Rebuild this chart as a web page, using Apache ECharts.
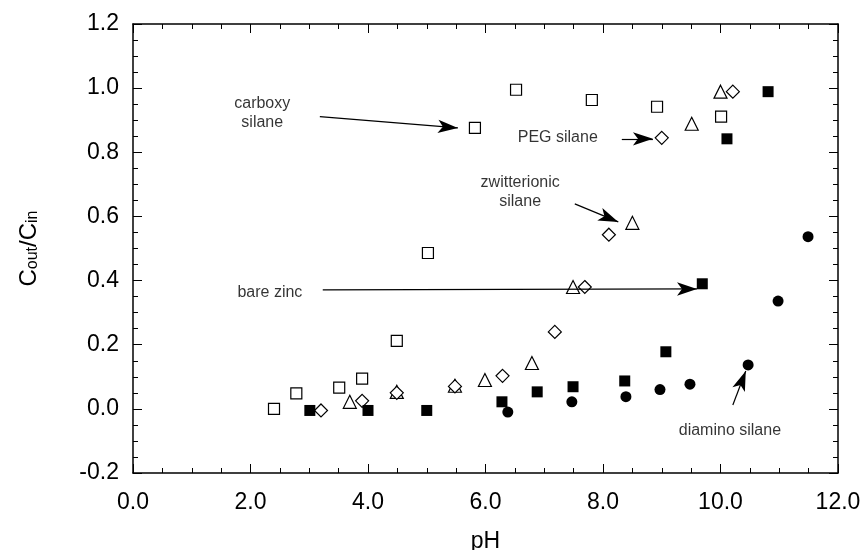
<!DOCTYPE html>
<html>
<head>
<meta charset="utf-8">
<script src="https://cdn.jsdelivr.net/npm/echarts@6/dist/echarts.min.js"></script>
<style>
  html, body { margin: 0; padding: 0; background: #fff; }
  #main { width: 863px; height: 550px; }
</style>
</head>
<body>
<div id="main"></div>
<script>
// pH vs Cout/Cin
var carboxy = [[2.40, 0.0], [2.78, 0.048], [3.51, 0.066], [3.90, 0.094], [4.49, 0.212],
    [5.02, 0.486], [5.82, 0.876], [6.52, 0.995], [7.81, 0.963], [8.92, 0.942], [10.01, 0.911]];
var zwitter = [[3.69, 0.022], [4.49, 0.053], [5.48, 0.072], [5.99, 0.09], [6.79, 0.143],
    [7.49, 0.38], [8.50, 0.58], [9.51, 0.889], [10.0, 0.989]];
var peg = [[3.20, -0.005], [3.90, 0.025], [4.49, 0.05], [5.48, 0.07], [6.29, 0.103],
    [7.18, 0.24], [7.69, 0.38], [8.10, 0.543], [9.0, 0.845], [10.21, 0.989]];
var bareZinc = [[3.01, -0.005], [4.0, -0.005], [5.0, -0.005], [6.28, 0.022], [6.88, 0.053],
    [7.49, 0.069], [8.37, 0.087], [9.07, 0.178], [9.69, 0.39], [10.11, 0.842], [10.81, 0.989]];
var diamino = [[6.38, -0.01], [7.47, 0.022], [8.39, 0.038], [8.97, 0.06], [9.48, 0.077],
    [10.47, 0.137], [10.98, 0.336], [11.49, 0.537]];

// annotation texts and arrows (data coords)
var noteText = ['carboxy\nsilane', 'PEG silane', 'zwitterionic\nsilane', 'bare zinc', 'diamino silane'];
var notePos = [[2.2, 0.923], [7.23, 0.845], [6.59, 0.677], [2.33, 0.362], [10.16, -0.069]];
var arrowFrom = [[3.18, 0.911], [8.32, 0.842], [7.52, 0.639], [3.23, 0.371], [10.21, 0.012]];
var arrowTo = [[5.53, 0.876], [8.85, 0.842], [8.26, 0.583], [9.60, 0.374], [10.43, 0.118]];

var xTicks = { min: 0, max: 12, interval: 2 };
var yTicks = { min: -0.2, max: 1.2, interval: 0.2 };

var chart = echarts.init(document.getElementById("main"));
var FONT = "Liberation Sans";

function axisBase(xy, show) {
    var t = xy === "x" ? xTicks : yTicks;
    return {
        type: "value",
        min: t.min,
        max: t.max,
        interval: t.interval,
        splitLine: { show: false },
        axisLine: { show: true, onZero: false, lineStyle: { color: "#000", width: 1.5 } },
        axisTick: { show: true, inside: true, length: 9, lineStyle: { color: "#000", width: 1 } },
        minorTick: { show: true, splitNumber: 4, length: 5, lineStyle: { color: "#000", width: 1 } },
        axisLabel: {
            show: show,
            color: "#000",
            fontFamily: FONT,
            fontSize: 23,
            margin: xy === "x" ? 18 : 14,
            formatter: function (v) { return v.toFixed(1); }
        }
    };
}

var xMain = axisBase("x", true);
xMain.position = "bottom";
xMain.name = "pH";
xMain.nameLocation = "middle";
xMain.nameGap = 57;
xMain.nameTextStyle = { color: "#000", fontFamily: FONT, fontSize: 23 };
var xTop = axisBase("x", false);
xTop.position = "top";

var yMain = axisBase("y", true);
yMain.position = "left";
yMain.name = "{a|C}{b|out}{a|/C}{b|in}";
yMain.nameLocation = "middle";
yMain.nameGap = 92;
yMain.nameTextStyle = {
    rich: {
        a: { color: "#000", fontFamily: FONT, fontSize: 24, verticalAlign: "bottom", lineHeight: 28 },
        b: { color: "#000", fontFamily: FONT, fontSize: 16, verticalAlign: "bottom", lineHeight: 20 }
    }
};
var yRight = axisBase("y", false);
yRight.position = "right";

function pts(arr, symbol, filled) {
    return {
        type: "scatter",
        xAxisIndex: 0,
        yAxisIndex: 0,
        symbol: symbol,
        symbolSize: symbol === "triangle" ? 13 : (symbol === "diamond" ? 13 : 11),
        data: arr,
        itemStyle: filled ? { color: "#000", opacity: 1 } : { color: "#fff", borderColor: "#000", borderWidth: 1.2, opacity: 1 },
        z: 3
    };
}

var notes = [];
for (var i = 0; i < noteText.length; i++) {
    notes.push({ value: notePos[i], name: noteText[i] });
}
var arrows = [];
for (var j = 0; j < arrowFrom.length; j++) {
    arrows.push([{ coord: arrowFrom[j] }, { coord: arrowTo[j] }]);
}

chart.setOption({
    animation: false,
    backgroundColor: "#fff",
    grid: { left: 133, right: 25, top: 24, bottom: 77, containLabel: false, outerBoundsMode: "none" },
    xAxis: [xMain, xTop],
    yAxis: [yMain, yRight],
    series: [
        pts(carboxy, "rect", false),
        pts(zwitter, "triangle", false),
        pts(peg, "diamond", false),
        pts(bareZinc, "rect", true),
        pts(diamino, "circle", true),
        {
            type: "scatter",
            symbolSize: 0,
            data: notes,
            silent: true,
            label: {
                show: true,
                position: "inside",
                formatter: function (p) { return p.name; },
                color: "#000",
                fontFamily: FONT,
                fontSize: 16,
                lineHeight: 19,
                align: "center"
            },
            markLine: {
                silent: true,
                symbol: ["none", "arrow"],
                symbolSize: [10, 20],
                label: { show: false },
                lineStyle: { color: "#000", width: 1.2, type: "solid", opacity: 1 },
                data: arrows
            }
        }
    ]
});
</script>
</body>
</html>
